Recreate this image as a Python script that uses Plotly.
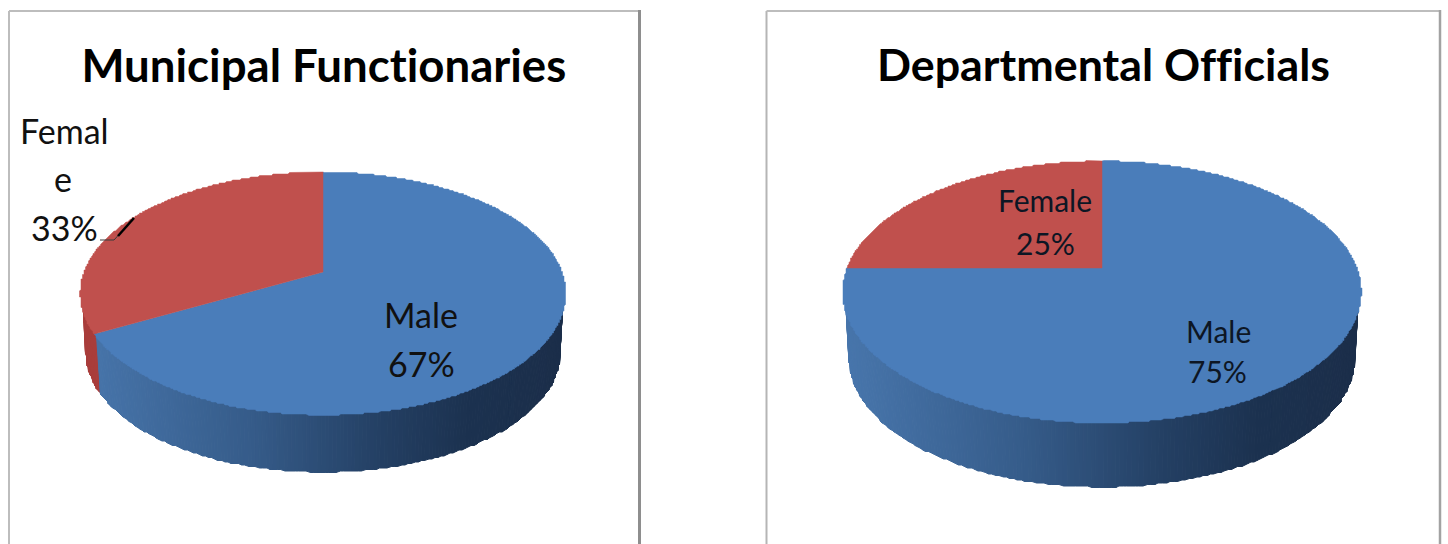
import numpy as np
import plotly.graph_objects as go

# ---- data ----
categories = ["Male", "Female"]
municipal_values = [67, 33]
departmental_values = [75, 25]
titles = ["Municipal Functionaries", "Departmental Officials"]

BLUE = "#4a7dba"
RED = "#c0504d"
FONT = "Lato, Carlito, Calibri, sans-serif"
GRID = 1.5

fig = go.Figure()


def ramp(t, stops):
    ts = [s[0] for s in stops]
    return "rgb(%d,%d,%d)" % tuple(np.interp(t, ts, [s[1][i] for s in stops]) for i in range(3))


def snap(a):
    return np.round(np.asarray(a) / GRID) * GRID


BLUE_WALL = [(0, (72, 118, 172)), (0.35, (54, 92, 138)), (0.62, (36, 64, 100)), (0.8, (28, 50, 80)), (1, (27, 46, 74))]
RED_WALL = [(0, (170, 62, 60)), (1, (140, 50, 48))]


def draw_pie(values, cx, cy, rx, ry, k, s, vpy):
    def top(a):
        v = -np.cos(a)
        w = 1 - k * v
        return cx + rx * np.sin(a) / w, cy + ry * v / w

    def bottom(a):
        x, y = top(a)
        return cx + s * (x - cx), vpy + s * (y - vpy)

    fracs = np.array(values, dtype=float) / sum(values)
    edges = np.concatenate([[0], np.cumsum(fracs)]) * 2 * np.pi
    x_ext = rx / np.sqrt(1 - k * k)
    ramps = [BLUE_WALL, RED_WALL]
    colors = [BLUE, RED]
    # side wall, painted from back to front
    quads = []
    for i in range(len(values)):
        n = max(int((edges[i + 1] - edges[i]) / np.radians(0.75)), 2)
        grid = np.linspace(edges[i], edges[i + 1], n + 1)
        for a0, a1 in zip(grid[:-1], grid[1:]):
            am = (a0 + a1) / 2
            if np.cos(am) <= 0.35:
                quads.append((np.cos(am), a0, a1, am, i))
    quads.sort(key=lambda q: -q[0])
    for _, a0, a1, am, i in quads:
        aa = np.array([a0, a1])
        xt, yt = top(aa)
        # top edge tucked just under the top face so no seam shows
        xt, yt = cx + 0.99 * (xt - cx), cy + 0.99 * (yt - cy)
        xb, yb = snap(bottom(aa)[0]), snap(bottom(aa)[1])
        t = (top(am)[0] - (cx - x_ext)) / (2 * x_ext)
        c = ramp(t, ramps[i])
        fig.add_trace(go.Scatter(
            x=[xt[0], xt[1], xb[1], xb[0], xt[0]], y=[yt[0], yt[1], yb[1], yb[0], yt[0]],
            mode="lines", fill="toself", fillcolor=c, line=dict(color=c, width=1),
            hoverinfo="skip", showlegend=False))
    # top face
    for i in range(len(values)):
        aa = np.linspace(edges[i], edges[i + 1], int(900 * fracs[i]) + 2)
        xt, yt = top(aa)
        xs, ys = snap(xt), snap(yt)
        xs[0], ys[0], xs[-1], ys[-1] = xt[0], yt[0], xt[-1], yt[-1]
        fig.add_trace(go.Scatter(
            x=np.r_[cx, xs, cx], y=np.r_[cy, ys, cy],
            mode="lines", fill="toself", fillcolor=colors[i], line=dict(color=colors[i], width=0.5),
            hoverinfo="skip", showlegend=False))


draw_pie(municipal_values, 323, 272, 239, 117.7, 0.177, 0.975, 2696)
draw_pie(departmental_values, 1102, 268, 255, 126.6, 0.183, 0.973, 2793)

# panel frames
for x0, x1, wr, cr, cl in [(9, 639.5, 3, "#8e8e8e", "#bdbdbd"), (766.5, 1440, 2.5, "#a2a2a2", "#b5b5b5")]:
    fig.add_shape(type="line", x0=x0, x1=x0, y0=11, y1=544, line=dict(color=cl, width=2))
    fig.add_shape(type="line", x0=x0, x1=x1, y0=11, y1=11, line=dict(color="#bdbdbd", width=2))
    fig.add_shape(type="line", x0=x1, x1=x1, y0=10, y1=544, line=dict(color=cr, width=wr))

# leader line
fig.add_shape(type="path", path="M 100 240 L 114 240 L 134 218", line=dict(color="#3a3a3a", width=1))
fig.add_shape(type="line", x0=118, y0=236, x1=134, y1=218, line=dict(color="#000000", width=2.5))


def note(x, y, text, size, bold=False, color="#111111"):
    fig.add_annotation(x=x, y=y, xref="x", yref="y", text=f"<b>{text}</b>" if bold else text,
                       showarrow=False, xanchor="center", yanchor="middle",
                       font=dict(family=FONT, size=size, color=color))


note(323.5, 64, titles[0], 45.6, bold=True, color="#000000")
note(1103, 64, titles[1], 44.8, bold=True, color="#000000")

for x, y, t in [(64, 130, categories[1][:5]), (63, 178, categories[1][5:]), (64, 227, f"{municipal_values[1]}%"),
                (421, 314, categories[0]), (421, 363, f"{municipal_values[0]}%")]:
    note(x, y, t, 34)
for x, y, t in [(1045, 200, categories[1]), (1045, 243, f"{departmental_values[1]}%"),
                (1218, 331, categories[0]), (1217, 371, f"{departmental_values[0]}%")]:
    note(x, y, t, 30, color="#0d1624")

fig.update_layout(
    width=1448, height=544, margin=dict(l=0, r=0, t=0, b=0),
    paper_bgcolor="white", plot_bgcolor="white", showlegend=False,
    xaxis=dict(range=[0, 1448], visible=False, fixedrange=True),
    yaxis=dict(range=[544, 0], visible=False, fixedrange=True),
)
fig.write_html(
    "out.html",
    post_script="document.body.style.margin='0';document.body.style.overflow='hidden';"
                "var s=document.createElement('style');"
                "s.textContent='text{font-variant-ligatures:none !important;text-rendering:optimizeSpeed !important}';"
                "document.head.appendChild(s);",
    config=dict(displayModeBar=False),
)
